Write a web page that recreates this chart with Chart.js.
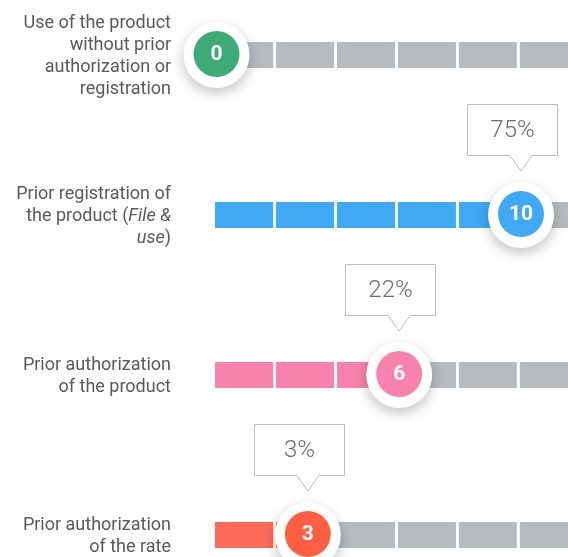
<!DOCTYPE html>
<html>
<head>
<meta charset="utf-8">
<script src="https://cdn.jsdelivr.net/npm/chart.js@4/dist/chart.umd.min.js"></script>
<style>
  html, body { margin: 0; padding: 0; background: #fff; }
  #wrap { width: 568px; height: 557px; }
</style>
</head>
<body>
<div id="wrap"><canvas id="chart"></canvas></div>
<script>
// row labels, one line per entry; *text* is set in italics
const rowLabels = [
    ['Use of the product', 'without prior', 'authorization or', 'registration'],
    ['Prior registration of', 'the product (*File &*', '*use*)'],
    ['Prior authorization', 'of the product'],
    ['Prior authorization', 'of the rate']
];
const scores = [0, 10, 6, 3];
const shares = [null, 75, 22, 3];
const segmentStarts = [0, 2, 4, 6, 8, 10];
const segmentSize = 2;

const barColors = ['#3daa78', '#3fa9f5', '#f783ac', '#fd6a5a'];
const markerColors = ['#3daa78', '#3fa9f5', '#f783ac', '#ff5f41'];
const trackColor = '#b6bbbf';
const textColor = '#5a5a5a';

const categories = rowLabels.map(l => l.join(' ').replace(/\*/g, ''));

const common = {
    borderColor: '#ffffff',
    borderWidth: { left: 0, top: 0, bottom: 0, right: 3 },
    borderSkipped: false,
    barThickness: 26,
    clip: { left: 0, top: 40, right: 0, bottom: 40 }
};

const datasets = [];
// coloured part first so it is drawn on top of the grey track
segmentStarts.forEach(s => {
    datasets.push(Object.assign({
        label: 'score ' + s,
        data: scores.map(v => v > s ? [s, Math.min(s + segmentSize, v)] : null),
        backgroundColor: barColors
    }, common));
});
segmentStarts.forEach(s => {
    datasets.push(Object.assign({
        label: 'track ' + s,
        data: scores.map(() => [s, s + segmentSize]),
        backgroundColor: trackColor
    }, common));
});

function drawLabel(ctx, lines, xRight, yCenter) {
    const lh = 22;
    lines.forEach((line, i) => {
        const y = yCenter + (i - (lines.length - 1) / 2) * lh;
        const parts = line.split('*');
        const fonts = parts.map((p, j) => (j % 2 ? 'italic ' : '') + '400 18px Roboto');
        let total = 0;
        parts.forEach((p, j) => { ctx.font = fonts[j]; total += ctx.measureText(p).width; });
        let x = xRight - total;
        parts.forEach((p, j) => {
            ctx.font = fonts[j];
            ctx.fillText(p, x, y);
            x += ctx.measureText(p).width;
        });
    });
}

const overlay = {
    id: 'overlay',
    afterDraw(chart) {
        const ctx = chart.ctx;
        const xs = chart.scales.x, ys = chart.scales.y;
        ctx.save();
        ctx.textBaseline = 'middle';
        ctx.textAlign = 'left';
        ctx.fillStyle = textColor;
        rowLabels.forEach((lines, i) => drawLabel(ctx, lines, 171, ys.getPixelForValue(i) + 1));

        scores.forEach((v, i) => {
            const x = xs.getPixelForValue(v) + 1.5;
            const y = ys.getPixelForValue(i);

            // white ring with soft shadow
            ctx.save();
            ctx.shadowColor = 'rgba(0,0,0,0.24)';
            ctx.shadowBlur = 13;
            ctx.shadowOffsetY = 5;
            ctx.fillStyle = '#fff';
            ctx.beginPath();
            ctx.arc(x, y, 33, 0, Math.PI * 2);
            ctx.fill();
            ctx.restore();

            ctx.fillStyle = markerColors[i];
            ctx.beginPath();
            ctx.arc(x, y - 1, 23, 0, Math.PI * 2);
            ctx.fill();

            ctx.fillStyle = '#fff';
            ctx.font = 'bold 21px Roboto';
            ctx.textAlign = 'center';
            ctx.fillText(String(v), x, y);

            if (shares[i] != null) {
                const left = Math.round(x - 54) + 0.5, right = left + 90;
                const top = Math.round(y - 111) + 0.5, bottom = top + 51;
                const tipY = y - 44;
                ctx.beginPath();
                ctx.moveTo(left, top);
                ctx.lineTo(right, top);
                ctx.lineTo(right, bottom);
                ctx.lineTo(x + 11, bottom);
                ctx.lineTo(x, tipY);
                ctx.lineTo(x - 11, bottom);
                ctx.lineTo(left, bottom);
                ctx.closePath();
                ctx.fillStyle = '#fff';
                ctx.fill();
                ctx.strokeStyle = '#bdbdbd';
                ctx.lineWidth = 1;
                ctx.stroke();

                ctx.fillStyle = '#6b6b6b';
                ctx.font = '300 24px Roboto';
                ctx.fillText(shares[i] + '%', (left + right) / 2, (top + bottom) / 2 + 1);
            }
            ctx.textAlign = 'left';
        });
        ctx.restore();
    }
};

// 0 sits at about x=215, 10 at about x=520
const unit = 30.45;
const xMin = -215 / unit;
const xMax = xMin + 568 / unit;

new Chart(document.getElementById('chart'), {
    type: 'bar',
    data: { labels: categories, datasets: datasets },
    options: {
        indexAxis: 'y',
        responsive: true,
        maintainAspectRatio: false,
        animation: false,
        grouped: false,
        layout: { padding: { top: 55, bottom: 22, left: 0, right: 0 } },
        plugins: { legend: { display: false }, tooltip: { enabled: false } },
        scales: {
            x: { type: 'linear', min: xMin, max: xMax, display: false },
            y: { type: 'category', offset: false, display: false }
        }
    },
    plugins: [overlay]
});
</script>
</body>
</html>
